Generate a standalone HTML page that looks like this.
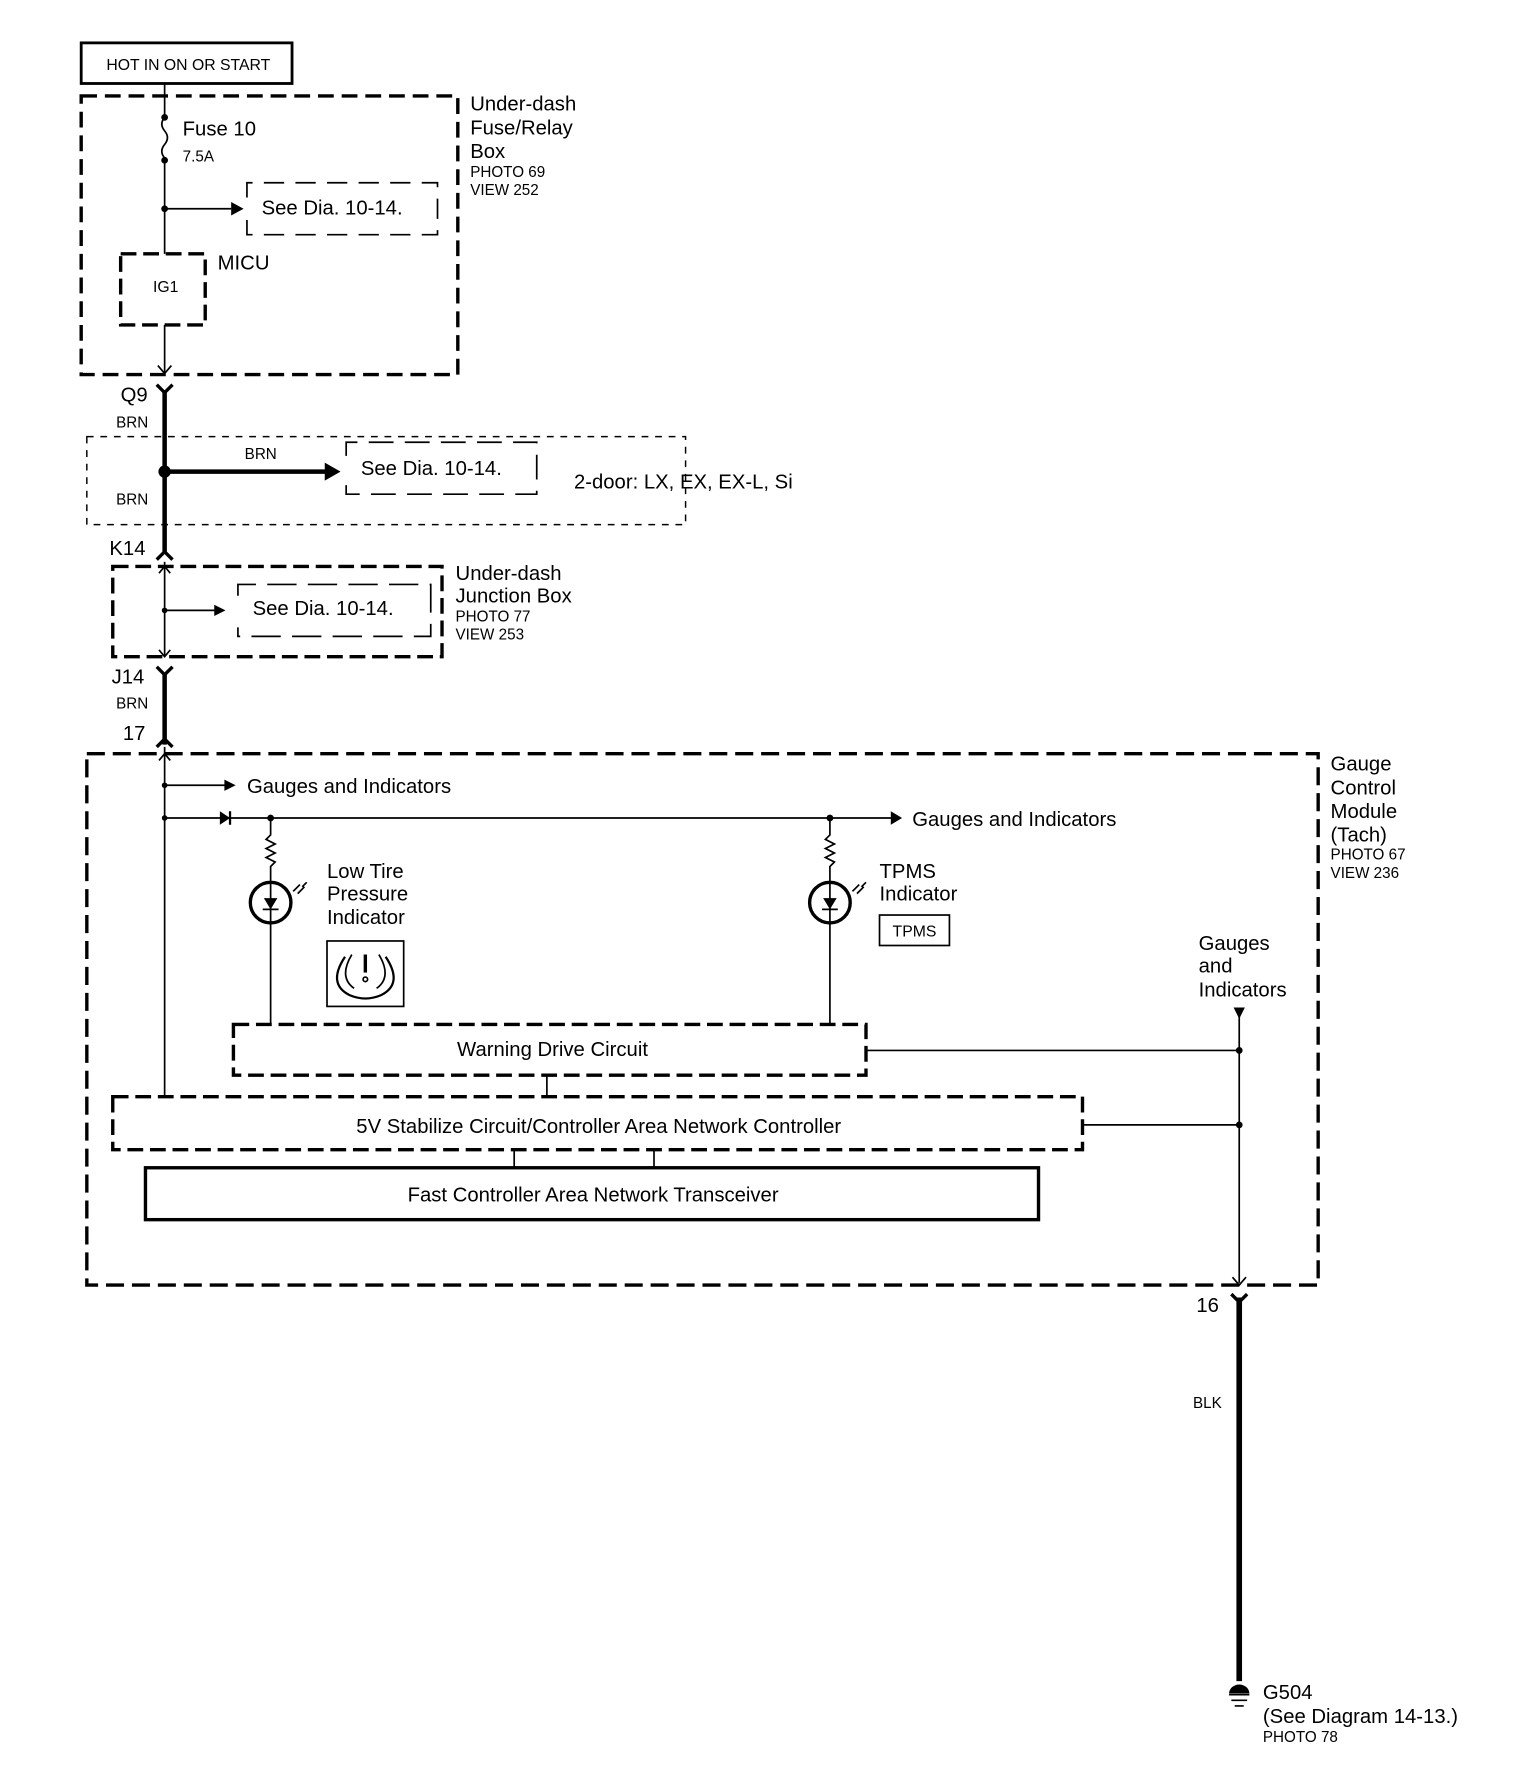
<!DOCTYPE html>
<html><head><meta charset="utf-8"><style>
html,body{margin:0;padding:0;background:#fff}
svg{display:block}
text{font-family:"Liberation Sans",Arial,sans-serif;fill:#000}
.l{font-size:18px}.s{font-size:13.5px}
</style></head><body>
<svg width="1520" height="1768" viewBox="0 0 1348 1567" preserveAspectRatio="none" xmlns="http://www.w3.org/2000/svg">
<g fill="none" stroke="#000">
<rect x="72" y="38" width="187" height="36" stroke-width="2.5"/>
<rect x="72" y="85" width="334" height="247" stroke-width="3" stroke-dasharray="14,7"/>
<line x1="146" y1="74" x2="146" y2="104" stroke-width="1.5"/>
<path d="M146 104 q-5 6 0 12 q5 6 0 12 q-5 6 0 12 L146 225" stroke-width="1.5"/>
<line x1="146" y1="185" x2="205" y2="185" stroke-width="1.5"/>
<path d="M219 175 V162 H388 V208 H219 V195" stroke-width="1.5" stroke-dasharray="18,10"/>
<rect x="107" y="225" width="75" height="63" stroke-width="3" stroke-dasharray="14,6"/>
<line x1="146" y1="288" x2="146" y2="330" stroke-width="1.5"/>
<path d="M140 324 L146 331 L152 324" stroke-width="1.5"/>
<path d="M139 341 L146 348 L153 341" stroke-width="3"/>
<line x1="146" y1="346" x2="146" y2="490" stroke-width="4"/>
<rect x="77" y="387" width="531" height="78" stroke-width="1.3" stroke-dasharray="6,6"/>
<line x1="146" y1="418" x2="290" y2="418" stroke-width="4"/>
<path d="M307 404 V392 H476 V438 H307 V430" stroke-width="1.5" stroke-dasharray="22,10"/>
<path d="M139 496 L146 489 L153 496" stroke-width="3"/>
<rect x="100" y="502" width="292" height="80" stroke-width="3" stroke-dasharray="14,6"/>
<line x1="146" y1="498" x2="146" y2="582" stroke-width="1.5"/>
<path d="M141 508 L146 502 L151 508 M141 576 L146 582 L151 576" stroke-width="1.5"/>
<line x1="146" y1="541" x2="192" y2="541" stroke-width="1.5"/>
<path d="M211 528 V518 H382 V564 H211 V556" stroke-width="1.5" stroke-dasharray="26,10"/>
<path d="M139 591 L146 598 L153 591" stroke-width="3"/>
<line x1="146" y1="596" x2="146" y2="660" stroke-width="4"/>
<path d="M139 662 L146 655 L153 662" stroke-width="3"/>
<rect x="77" y="668" width="1092" height="471" stroke-width="3" stroke-dasharray="16,7"/>
<line x1="146" y1="662" x2="146" y2="972" stroke-width="1.5"/>
<path d="M141 674 L146 668 L151 674" stroke-width="1.5"/>
<line x1="146" y1="696" x2="200" y2="696" stroke-width="1.5"/>
<line x1="146" y1="725" x2="792" y2="725" stroke-width="1.5"/>
<line x1="204" y1="719" x2="204" y2="731" stroke-width="2"/>
<g stroke-width="1.5">
<path d="M240 725 V740 l-4 4 l8 4 l-8 4 l8 4 l-8 4 l8 4 l-4 4 V908"/>
<circle cx="240" cy="800" r="18" stroke-width="3"/>
<path d="M736 725 V740 l-4 4 l8 4 l-8 4 l8 4 l-8 4 l8 4 l-4 4 V908"/>
<circle cx="736" cy="800" r="18" stroke-width="3"/>
<path d="M233 806 H247 M729 806 H743"/>
<path d="M260 790 l6 -6 M264 792 l6 -6 M268 786 l4 -4"/>
<path d="M756 790 l6 -6 M760 792 l6 -6 M764 786 l4 -4"/>
</g>
<rect x="290" y="834" width="68" height="58" stroke-width="1.5"/>
<path d="M306 848 Q290 872 310 882 Q324 888 338 882 Q358 872 342 848" stroke-width="2"/>
<path d="M312 846 Q300 866 314 876 M336 846 Q348 866 334 876" stroke-width="1.5"/>
<path d="M324 846 V862" stroke-width="3"/>
<circle cx="324" cy="868" r="2" stroke-width="1.5"/>
<rect x="780" y="811" width="62" height="27" stroke-width="1.5"/>
<line x1="1099" y1="893" x2="1099" y2="1137" stroke-width="1.5"/>
<rect x="207" y="908" width="561" height="45" stroke-width="3" stroke-dasharray="14,6"/>
<line x1="768" y1="931" x2="1099" y2="931" stroke-width="1.5"/>
<line x1="485" y1="953" x2="485" y2="972" stroke-width="1.5"/>
<rect x="100" y="972" width="860" height="47" stroke-width="3" stroke-dasharray="14,6"/>
<line x1="960" y1="997" x2="1099" y2="997" stroke-width="1.5"/>
<line x1="456" y1="1019" x2="456" y2="1035" stroke-width="1.5"/>
<line x1="580" y1="1019" x2="580" y2="1035" stroke-width="1.5"/>
<rect x="129" y="1035" width="792" height="46" stroke-width="3"/>
<path d="M1093 1132 L1099 1139 L1105 1132" stroke-width="1.5"/>
<path d="M1092 1147 L1099 1154 L1106 1147" stroke-width="3"/>
<line x1="1099" y1="1150" x2="1099" y2="1490" stroke-width="5"/>
<path d="M1090 1502 H1108 M1092 1507 H1106 M1095 1512 H1103" stroke-width="1.5"/>
</g>
<g fill="#000">
<circle cx="146" cy="104" r="3"/><circle cx="146" cy="142" r="3"/><circle cx="146" cy="185" r="3"/>
<path d="M205 179 L216 185 L205 191Z"/>
<circle cx="146" cy="418" r="5.5"/>
<path d="M288 410 L302 418 L288 426Z"/>
<circle cx="146" cy="541" r="2.5"/>
<path d="M190 536 L200 541 L190 546Z"/>
<circle cx="146" cy="696" r="2.5"/><path d="M199 691 L209 696 L199 701Z"/>
<circle cx="146" cy="725" r="2.5"/><path d="M195 719 L204 725 L195 731Z"/>
<circle cx="240" cy="725" r="3"/><circle cx="736" cy="725" r="3"/>
<path d="M790 719 L800 725 L790 731Z"/>
<path d="M234 796 L246 796 L240 806Z"/><path d="M730 796 L742 796 L736 806Z"/>
<path d="M1094 893 L1104 893 L1099 903Z"/>
<circle cx="1099" cy="931" r="3"/><circle cx="1099" cy="997" r="3"/>
<path d="M1090 1501 A9 8 0 0 1 1108 1501Z"/>
</g>
<text x="167" y="62" text-anchor="middle" style="font-size:14px">HOT IN ON OR START</text>
<text class="l" x="417" y="98">Under-dash</text>
<text class="l" x="417" y="119">Fuse/Relay</text>
<text class="l" x="417" y="140">Box</text>
<text class="s" x="417" y="157">PHOTO 69</text>
<text class="s" x="417" y="173">VIEW 252</text>
<text class="l" x="162" y="120">Fuse 10</text>
<text class="s" x="162" y="143">7.5A</text>
<text class="l" x="232" y="190">See Dia. 10-14.</text>
<text x="147" y="259" text-anchor="middle" style="font-size:14px">IG1</text>
<text class="l" x="193" y="239">MICU</text>
<text class="l" x="107" y="356">Q9</text>
<text class="s" x="103" y="379">BRN</text>
<text class="s" x="217" y="407">BRN</text>
<text class="l" x="320" y="421">See Dia. 10-14.</text>
<text class="s" x="103" y="447">BRN</text>
<text class="l" x="509" y="433">2-door: LX, EX, EX-L, Si</text>
<text class="l" x="97" y="492">K14</text>
<text class="l" x="404" y="514">Under-dash</text>
<text class="l" x="404" y="534">Junction Box</text>
<text class="s" x="404" y="551">PHOTO 77</text>
<text class="s" x="404" y="567">VIEW 253</text>
<text class="l" x="224" y="545">See Dia. 10-14.</text>
<text class="l" x="99" y="606">J14</text>
<text class="s" x="103" y="628">BRN</text>
<text class="l" x="109" y="656">17</text>
<text class="l" x="1180" y="683">Gauge</text>
<text class="l" x="1180" y="704">Control</text>
<text class="l" x="1180" y="725">Module</text>
<text class="l" x="1180" y="746">(Tach)</text>
<text class="s" x="1180" y="762">PHOTO 67</text>
<text class="s" x="1180" y="778">VIEW 236</text>
<text class="l" x="219" y="703">Gauges and Indicators</text>
<text class="l" x="809" y="732">Gauges and Indicators</text>
<text class="l" x="290" y="778">Low Tire</text>
<text class="l" x="290" y="798">Pressure</text>
<text class="l" x="290" y="819">Indicator</text>
<text class="l" x="780" y="778">TPMS</text>
<text class="l" x="780" y="798">Indicator</text>
<text x="811" y="830" text-anchor="middle" style="font-size:14px">TPMS</text>
<text class="l" x="1063" y="842">Gauges</text>
<text class="l" x="1063" y="862">and</text>
<text class="l" x="1063" y="883">Indicators</text>
<text class="l" x="490" y="936" text-anchor="middle">Warning Drive Circuit</text>
<text class="l" x="531" y="1004" text-anchor="middle">5V Stabilize Circuit/Controller Area Network Controller</text>
<text class="l" x="526" y="1065" text-anchor="middle">Fast Controller Area Network Transceiver</text>
<text class="l" x="1061" y="1163">16</text>
<text class="s" x="1058" y="1248">BLK</text>
<text class="l" x="1120" y="1506">G504</text>
<text class="l" x="1120" y="1527">(See Diagram 14-13.)</text>
<text class="s" x="1120" y="1544">PHOTO 78</text>
</svg>
</body></html>
